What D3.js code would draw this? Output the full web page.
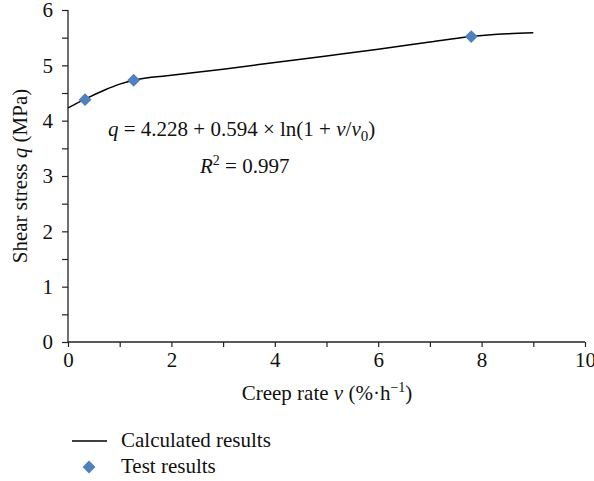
<!DOCTYPE html>
<html>
<head>
<meta charset="utf-8">
<script src="https://cdn.jsdelivr.net/npm/d3@7"></script>
<style>
  body { margin: 0; background: #fff; }
  text { font-family: "Liberation Serif", "Times New Roman", serif; fill: #111; }
</style>
</head>
<body>
<div id="chart"></div>
<script>
// Data
var calcV = [0, 0.33, 0.7, 1.0, 1.27, 2, 3, 4, 5, 6, 7, 7.8, 8.5, 9];
var calcQ = [4.23, 4.39, 4.55, 4.66, 4.73, 4.82, 4.93, 5.05, 5.17, 5.29, 5.42, 5.52, 5.57, 5.59];
var testV = [0.33, 1.27, 7.8];
var testQ = [4.38, 4.73, 5.52];
var xTicks = [0, 2, 4, 6, 8, 10];
var yTicks = [0, 1, 2, 3, 4, 5, 6];

var svgWidth = 594;
var svgHeight = 481;
var margin = { top: 10, left: 68 };
var width = 517;
var height = 332;
var fontSize = "21px";

var svg = d3.select("#chart")
    .append("svg")
    .attr("width", svgWidth)
    .attr("height", svgHeight);

var chartGroup = svg.append("g")
    .attr("transform", `translate(${margin.left}, ${margin.top})`);

// Scales
var x = d3.scaleLinear().domain([0, 10]).range([0, width]);
var y = d3.scaleLinear().domain([0, 6]).range([height, 0]);

// Axes (minor ticks unlabelled)
var bottomAxis = d3.axisBottom(x)
    .tickValues(d3.range(0, 11, 1))
    .tickSize(5)
    .tickPadding(5)
    .tickFormat(d => xTicks.includes(d) ? d : "");
var leftAxis = d3.axisLeft(y)
    .tickValues(d3.range(0, 6.5, 0.5))
    .tickSize(6)
    .tickPadding(9)
    .tickFormat(d => yTicks.includes(d) ? d : "");

var gx = chartGroup.append("g")
    .attr("transform", `translate(0, ${height})`)
    .call(bottomAxis);
var gy = chartGroup.append("g")
    .call(leftAxis);

[gx, gy].forEach(function (g) {
    g.select(".domain").attr("stroke", "#222").attr("stroke-width", 1.3);
    g.selectAll(".tick line").attr("stroke", "#222").attr("stroke-width", 1.2);
    g.selectAll(".tick text")
        .attr("font-family", "Liberation Serif")
        .attr("font-size", fontSize)
        .attr("fill", "#111");
});
gy.select(".domain").attr("d", `M0,${height}V0`);
gx.select(".domain").attr("d", `M0,0H${width}`);

// Calculated curve
var line = d3.line()
    .x((d, i) => x(calcV[i]))
    .y((d, i) => y(calcQ[i]))
    .curve(d3.curveMonotoneX);

chartGroup.append("path")
    .datum(calcV)
    .attr("d", line)
    .attr("fill", "none")
    .attr("stroke", "#000")
    .attr("stroke-width", 1.5);

// Test points
var diamond = d3.symbol().type(d3.symbolDiamond2).size(105);
chartGroup.selectAll(".pt")
    .data(testV)
    .enter()
    .append("path")
    .attr("class", "pt")
    .attr("transform", (d, i) => `translate(${x(d)}, ${y(testQ[i])})`)
    .attr("d", diamond)
    .attr("fill", "#4f81bd");

// Equation
var eq = svg.append("text")
    .attr("x", 108)
    .attr("y", 136)
    .attr("font-size", fontSize);
eq.append("tspan").attr("font-style", "italic").text("q");
eq.append("tspan").text(" = 4.228 + 0.594 \u00d7 ln(1 + ");
eq.append("tspan").attr("font-style", "italic").text("\u03bd");
eq.append("tspan").text("/");
eq.append("tspan").attr("font-style", "italic").text("\u03bd");
eq.append("tspan").attr("font-size", "15px").attr("dy", 5).text("0");
eq.append("tspan").attr("dy", -5).text(")");

var r2 = svg.append("text")
    .attr("x", 200)
    .attr("y", 173)
    .attr("font-size", fontSize);
r2.append("tspan").attr("font-style", "italic").text("R");
r2.append("tspan").attr("font-size", "14px").attr("dy", -8).text("2");
r2.append("tspan").attr("dy", 8).text(" = 0.997");

// Axis titles
var xTitle = svg.append("text")
    .attr("x", 327)
    .attr("y", 400)
    .attr("text-anchor", "middle")
    .attr("font-size", fontSize);
xTitle.append("tspan").text("Creep rate ");
xTitle.append("tspan").attr("font-style", "italic").text("\u03bd");
xTitle.append("tspan").text(" (%\u00b7h");
xTitle.append("tspan").attr("font-size", "14px").attr("dy", -8).text("\u22121");
xTitle.append("tspan").attr("dy", 8).text(")");

var yTitle = svg.append("text")
    .attr("transform", "translate(27, 176) rotate(-90)")
    .attr("text-anchor", "middle")
    .attr("font-size", fontSize);
yTitle.append("tspan").text("Shear stress ");
yTitle.append("tspan").attr("font-style", "italic").text("q");
yTitle.append("tspan").text(" (MPa)");

// Legend
svg.append("line")
    .attr("x1", 72).attr("x2", 107)
    .attr("y1", 441).attr("y2", 441)
    .attr("stroke", "#000")
    .attr("stroke-width", 1.5);
svg.append("text")
    .attr("x", 121).attr("y", 447)
    .attr("font-size", fontSize)
    .text("Calculated results");
svg.append("path")
    .attr("transform", "translate(89, 467)")
    .attr("d", diamond)
    .attr("fill", "#4f81bd");
svg.append("text")
    .attr("x", 121).attr("y", 473)
    .attr("font-size", fontSize)
    .text("Test results");
</script>
</body>
</html>
